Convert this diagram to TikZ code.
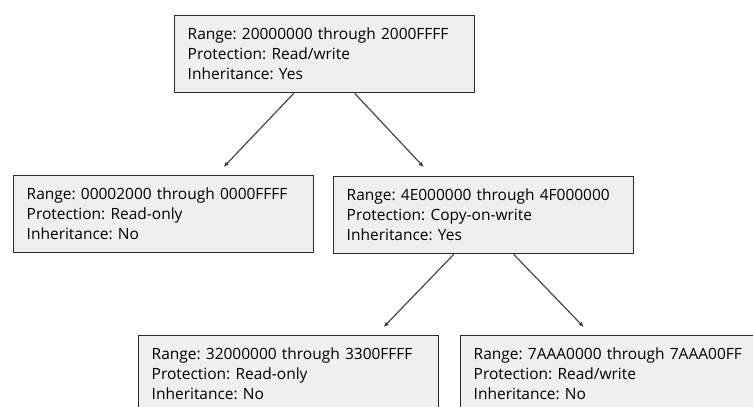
\documentclass[tikz,border=0pt]{standalone}
\usepackage{fontspec}
\setmainfont{Open Sans}
\frenchspacing
\usetikzlibrary{arrows.meta}
\definecolor{ink}{HTML}{2B2B2B}
\definecolor{paper}{HTML}{EFEFEF}
\definecolor{wire}{HTML}{3C3C3C}
\tikzset{
  region/.style={draw=ink,line width=1.4pt,fill=paper,anchor=north west,minimum width=300pt,
    minimum height=77pt,text width=274pt,inner xsep=13pt,inner ysep=0pt,align=left,
    font=\fontsize{15.5}{20}\selectfont},
  fl/.style={-{Latex[length=5pt,width=4.5pt]},draw=wire,line width=1.1pt},
  >=Latex}
\begin{document}
\begin{tikzpicture}[x=1pt,y=-1pt]
\useasboundingbox[fill=white] (0,0) rectangle (753,407);
\clip (0,0) rectangle (753,407);

\node[region] (root) at (174,15) {Range: 20000000 through 2000FFFF\\ Protection: Read/write\\ Inheritance: Yes};
\node[region] (low) at (13,175) {Range: 00002000 through 0000FFFF\\ Protection: Read-only\\ Inheritance: No};
\node[region] (cow) at (333,176) {Range: 4E000000 through 4F000000\\ Protection: Copy-on-write\\ Inheritance: Yes};
\node[region] (ro) at (138,335) {Range: 32000000 through 3300FFFF\\ Protection: Read-only\\ Inheritance: No};
\node[region] (rw) at (460,335) {Range: 7AAA0000 through 7AAA00FF\\ Protection: Read/write\\ Inheritance: No};

\draw[fl] ([xshift=-31pt]root.south) -- ([xshift=60pt,yshift=8pt]low.north);
\draw[fl] ([xshift=30pt]root.south) -- ([xshift=-60pt,yshift=9pt]cow.north);
\draw[fl] ([xshift=-30pt]cow.south) -- ([xshift=95pt,yshift=8pt]ro.north);
\draw[fl] ([xshift=30pt]cow.south) -- ([xshift=-27pt,yshift=8pt]rw.north);
\end{tikzpicture}
\end{document}
